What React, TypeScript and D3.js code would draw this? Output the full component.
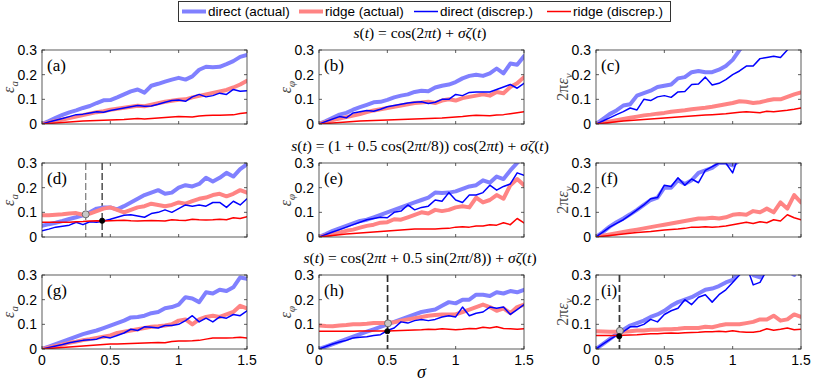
import React, { useEffect, useRef } from 'react';
import * as d3 from 'd3';

// noise level grid
const sigma = [0, 0.05, 0.1, 0.15, 0.2, 0.25, 0.3, 0.35, 0.4, 0.45, 0.5, 0.55, 0.6, 0.65, 0.7, 0.75,
  0.8, 0.85, 0.9, 0.95, 1.0, 1.05, 1.1, 1.15, 1.2, 1.25, 1.3, 1.35, 1.4, 1.45, 1.5];

const seriesNames = ['direct (actual)', 'ridge (actual)', 'direct (discrep.)', 'ridge (discrep.)'];
const panelLabels = ['(a)', '(b)', '(c)', '(d)', '(e)', '(f)', '(g)', '(h)', '(i)'];
const xTicks = [0, 0.5, 1, 1.5];
const yTicks = [0, 0.1, 0.2, 0.3];

// row 1: s(t) = cos(2πt) + σζ(t)
const aDirAct = [0, .012, .025, .037, .047, .055, .065, .073, .085, .096, .097, .108, .12, .132, .14, .127, .155, .163, .172, .18, .187, .18, .193, .22, .232, .23, .232, .243, .255, .272, .28];
const aRidAct = [0, .006, .012, .018, .024, .03, .036, .042, .048, .052, .058, .062, .066, .07, .074, .072, .078, .084, .09, .094, .098, .1, .108, .114, .12, .126, .132, .138, .148, .16, .175];
const aDirDis = [0, .008, .015, .022, .03, .038, .04, .045, .05, .048, .055, .06, .065, .07, .075, .072, .073, .08, .088, .095, .097, .092, .11, .12, .11, .115, .125, .12, .14, .133, .135];
const aRidDis = [0, .002, .004, .006, .008, .01, .012, .013, .014, .015, .016, .017, .018, .02, .022, .02, .022, .024, .026, .028, .03, .029, .028, .032, .034, .035, .035, .036, .037, .043, .046];

const bDirAct = [0, .012, .025, .038, .045, .058, .068, .078, .088, .09, .098, .108, .115, .12, .13, .135, .133, .148, .155, .16, .17, .185, .195, .2, .195, .205, .225, .205, .245, .24, .275];
const bRidAct = [0, .008, .016, .022, .028, .034, .04, .048, .055, .06, .065, .07, .075, .08, .085, .087, .09, .085, .095, .1, .095, .105, .11, .115, .12, .115, .13, .125, .15, .165, .19];
const bDirDis = [0, .01, .02, .03, .025, .045, .05, .055, .052, .06, .07, .075, .08, .085, .088, .09, .083, .088, .1, .1, .12, .115, .128, .13, .13, .13, .14, .15, .16, .145, .165];
const bRidDis = [0, .002, .004, .006, .008, .01, .012, .013, .014, .015, .016, .017, .018, .019, .02, .021, .022, .023, .024, .026, .028, .03, .033, .035, .034, .033, .036, .038, .042, .046, .05];

const cDirAct = [0, .02, .04, .055, .075, .08, .115, .125, .135, .15, .155, .16, .185, .19, .21, .215, .21, .21, .22, .235, .26, .3, .33, .35, .37, .38, .4, .42, .44, .46, .48];
const cRidAct = [0, .005, .01, .015, .02, .025, .03, .035, .038, .042, .045, .05, .053, .056, .06, .063, .066, .07, .075, .08, .085, .092, .09, .085, .088, .095, .1, .1, .11, .12, .128];
const cDirDis = [0, .012, .025, .038, .05, .065, .057, .1, .095, .11, .115, .108, .13, .132, .16, .162, .19, .158, .165, .18, .2, .215, .235, .235, .265, .27, .275, .27, .3, .33, .36];
const cRidDis = [0, .003, .006, .009, .012, .014, .016, .018, .02, .022, .024, .026, .028, .03, .032, .034, .036, .038, .04, .042, .045, .048, .05, .048, .046, .052, .05, .053, .056, .06, .065];

// row 2: s(t) = (1 + 0.5cos(2πt/8))cos(2πt) + σζ(t)
const dDirAct = [.045, .052, .058, .065, .073, .08, .088, .1, .115, .12, .12, .112, .125, .14, .155, .17, .18, .19, .175, .18, .2, .21, .205, .215, .24, .225, .24, .26, .245, .275, .295];
const dRidAct = [.088, .088, .09, .092, .095, .097, .09, .095, .105, .115, .12, .11, .1, .11, .12, .125, .135, .13, .125, .13, .14, .135, .145, .155, .16, .17, .175, .165, .175, .19, .18];
const dDirDis = [.025, .032, .04, .044, .048, .06, .05, .062, .06, .065, .072, .08, .088, .09, .085, .08, .095, .1, .11, .1, .115, .13, .125, .13, .125, .14, .14, .12, .145, .13, .155];
const dRidDis = [.06, .06, .06, .06, .06, .062, .063, .065, .066, .065, .066, .067, .068, .066, .065, .066, .067, .066, .065, .07, .068, .067, .072, .07, .069, .07, .072, .07, .078, .075, .082];

const eDirAct = [0, .012, .025, .035, .045, .055, .065, .07, .08, .09, .1, .11, .12, .13, .14, .15, .16, .18, .178, .18, .185, .195, .205, .21, .23, .22, .245, .235, .27, .3, .33];
const eRidAct = [0, .006, .012, .018, .025, .03, .038, .045, .05, .058, .06, .072, .07, .08, .09, .1, .095, .11, .105, .11, .12, .125, .12, .16, .14, .15, .17, .155, .21, .235, .21];
const eDirDis = [0, .01, .02, .03, .04, .05, .06, .07, .075, .08, .078, .1, .105, .13, .11, .12, .125, .15, .145, .18, .15, .14, .17, .17, .18, .21, .19, .205, .215, .26, .25];
const eRidDis = [0, .003, .006, .009, .012, .014, .016, .018, .02, .022, .024, .026, .028, .03, .032, .032, .032, .032, .034, .035, .04, .042, .04, .045, .045, .05, .048, .058, .05, .075, .057];

const fDirAct = [0, .02, .042, .06, .075, .092, .11, .13, .15, .16, .2, .2, .23, .215, .23, .26, .27, .28, .3, .3, .29, .31, .35, .38, .4, .42, .44, .46, .48, .5, .52];
const fRidAct = [0, .005, .01, .015, .02, .025, .03, .035, .04, .045, .05, .055, .06, .065, .07, .075, .075, .078, .075, .08, .09, .093, .09, .105, .1, .115, .1, .14, .115, .17, .14];
const fDirDis = [0, .02, .04, .055, .07, .09, .11, .13, .155, .16, .21, .205, .24, .21, .235, .22, .27, .285, .3, .3, .26, .34, .38, .4, .42, .44, .46, .48, .5, .52, .54];
const fRidDis = [0, .003, .006, .009, .012, .015, .018, .02, .022, .025, .028, .03, .032, .035, .04, .04, .042, .04, .042, .045, .05, .055, .06, .055, .062, .058, .07, .065, .09, .078, .07];

// row 3: s(t) = cos(2πt + 0.5sin(2πt/8)) + σζ(t)
const gDirAct = [0, .01, .02, .03, .04, .05, .06, .068, .075, .085, .095, .105, .115, .128, .13, .135, .145, .15, .165, .17, .18, .21, .205, .19, .23, .225, .24, .235, .25, .29, .285];
const gRidAct = [0, .006, .012, .018, .025, .03, .036, .04, .045, .05, .055, .065, .07, .075, .08, .085, .09, .092, .095, .1, .115, .12, .1, .12, .13, .135, .13, .14, .15, .175, .165];
const gDirDis = [0, .006, .012, .018, .025, .03, .035, .037, .04, .05, .045, .055, .065, .08, .075, .09, .088, .085, .095, .095, .1, .115, .135, .11, .125, .11, .13, .125, .14, .135, .155];
const gRidDis = [0, .002, .004, .006, .008, .01, .012, .014, .016, .018, .02, .02, .021, .022, .023, .024, .025, .026, .025, .03, .032, .032, .033, .035, .04, .045, .045, .045, .046, .048, .045];

const hDirAct = [0, .01, .02, .03, .04, .05, .06, .07, .08, .09, .1, .11, .12, .13, .14, .15, .155, .16, .175, .19, .185, .2, .2, .22, .22, .215, .23, .225, .235, .23, .24];
const hRidAct = [.095, .093, .092, .095, .097, .1, .1, .102, .105, .105, .105, .108, .115, .12, .125, .13, .135, .138, .14, .14, .14, .15, .16, .17, .18, .17, .155, .165, .145, .17, .18];
const hDirDis = [0, .01, .02, .028, .035, .045, .048, .05, .055, .058, .075, .085, .11, .105, .115, .12, .115, .12, .13, .135, .13, .17, .135, .145, .15, .17, .165, .17, .14, .16, .18];
const hRidDis = [.072, .072, .072, .072, .072, .072, .073, .073, .073, .073, .073, .074, .075, .076, .077, .078, .08, .079, .082, .08, .078, .08, .083, .082, .088, .085, .09, .083, .082, .08, .082];

const iDirAct = [0, .02, .04, .06, .078, .095, .105, .115, .13, .14, .155, .175, .19, .2, .21, .225, .24, .245, .255, .27, .28, .32, .33, .3, .29, .33, .34, .36, .32, .3, .35];
const iRidAct = [.072, .071, .07, .07, .07, .072, .075, .075, .078, .078, .08, .08, .082, .085, .085, .085, .09, .088, .095, .1, .1, .1, .105, .11, .12, .12, .135, .115, .12, .14, .13];
const iDirDis = [0, .02, .038, .055, .07, .09, .09, .1, .12, .11, .14, .155, .165, .2, .18, .21, .22, .19, .22, .24, .27, .3, .34, .26, .27, .32, .36, .38, .35, .33, .36];
const iRidDis = [.055, .055, .055, .055, .056, .057, .058, .06, .062, .062, .064, .065, .064, .066, .067, .068, .07, .07, .072, .07, .074, .07, .068, .068, .072, .082, .076, .08, .085, .078, .08];

const panelSeries = [
  [aDirAct, aRidAct, aDirDis, aRidDis],
  [bDirAct, bRidAct, bDirDis, bRidDis],
  [cDirAct, cRidAct, cDirDis, cRidDis],
  [dDirAct, dRidAct, dDirDis, dRidDis],
  [eDirAct, eRidAct, eDirDis, eRidDis],
  [fDirAct, fRidAct, fDirDis, fRidDis],
  [gDirAct, gRidAct, gDirDis, gRidDis],
  [hDirAct, hRidAct, hDirDis, hRidDis],
  [iDirAct, iRidAct, iDirDis, iRidDis],
];

// crossing markers: panel index, sigma, value, kind
const markerPanel = [3, 3, 7, 7, 8, 8];
const markerSigma = [0.32, 0.44, 0.505, 0.5, 0.175, 0.17];
const markerValue = [0.092, 0.066, 0.104, 0.072, 0.074, 0.052];
const markerKind = ['gray', 'black', 'gray', 'black', 'gray', 'black'];

const colors = ['#8080ff', '#ff8484', '#0000ff', '#ff0000'];
const widths = [4, 4, 1.5, 1.5];

const App = () => {
  const svgRef = useRef<SVGSVGElement>(null);

  useEffect(() => {
    const svg = d3.select(svgRef.current);
    svg.selectAll('*').remove();

    const width = 205;
    const height = 74;
    const colX = [42, 319, 596];
    const rowY = [50, 163, 275];
    const serif = '"Liberation Serif", "Times New Roman", serif';
    const sans = '"Liberation Sans", Arial, sans-serif';

    const x = d3.scaleLinear().domain([0, 1.5]).range([0, width]);
    const y = d3.scaleLinear().domain([0, 0.3]).range([height, 0]);

    // legend
    const legend = svg.append('g');
    legend.append('rect')
      .attr('x', 178.5).attr('y', 1.5).attr('width', 492).attr('height', 20)
      .attr('fill', 'white').attr('stroke', '#333').attr('stroke-width', 1);
    const legX = [182, 299, 414, 547];
    seriesNames.forEach((name, i) => {
      legend.append('line')
        .attr('x1', legX[i]).attr('x2', legX[i] + 24)
        .attr('y1', 11.5).attr('y2', 11.5)
        .attr('stroke', colors[i]).attr('stroke-width', widths[i]);
      legend.append('text')
        .attr('x', legX[i] + 26).attr('y', 16)
        .style('font-family', sans).style('font-size', '13.5px')
        .text(name);
    });

    // math titles: [text, italic]
    const titles: [string, boolean][][] = [
      [['s', true], ['(', false], ['t', true], [') = cos(2', false], ['πt', true], [') + ', false], ['σζ', true], ['(', false], ['t', true], [')', false]],
      [['s', true], ['(', false], ['t', true], [') = (1 + 0.5 cos(2', false], ['πt', true], ['/8)) cos(2', false], ['πt', true], [') + ', false], ['σζ', true], ['(', false], ['t', true], [')', false]],
      [['s', true], ['(', false], ['t', true], [') = cos(2', false], ['πt', true], [' + 0.5 sin(2', false], ['πt', true], ['/8)) + ', false], ['σζ', true], ['(', false], ['t', true], [')', false]],
    ];
    const titleY = [38, 151, 263];
    titles.forEach((segs, r) => {
      const t = svg.append('text')
        .attr('x', 420).attr('y', titleY[r])
        .attr('text-anchor', 'middle')
        .style('font-family', serif).style('font-size', '15.5px');
      segs.forEach(([s, it]) => {
        t.append('tspan').style('font-style', it ? 'italic' : 'normal').text(s);
      });
    });

    const yLabels: [string, string, string][] = [
      ['', 'ε', 'a'], ['', 'ε', 'φ'], ['2π', 'ε', 'ν'],
    ];

    panelSeries.forEach((series, p) => {
      const r = Math.floor(p / 3);
      const c = p % 3;
      const g = svg.append('g').attr('transform', `translate(${colX[c]},${rowY[r]})`);

      const clipId = `clip-${p}`;
      g.append('clipPath').attr('id', clipId)
        .append('rect').attr('width', width).attr('height', height);

      const line = d3.line<number>()
        .x((d, i) => x(sigma[i]))
        .y(d => y(d));

      const plot = g.append('g').attr('clip-path', `url(#${clipId})`);

      // dashed verticals
      markerPanel.forEach((mp, k) => {
        if (mp !== p) return;
        plot.append('line')
          .attr('x1', x(markerSigma[k])).attr('x2', x(markerSigma[k]))
          .attr('y1', 0).attr('y2', height)
          .attr('stroke', markerKind[k] === 'gray' ? '#777' : '#222')
          .attr('stroke-width', 1.2)
          .attr('stroke-dasharray', '7,3');
      });

      series.forEach((vals, s) => {
        plot.append('path')
          .datum(vals)
          .attr('d', line)
          .attr('fill', 'none')
          .attr('stroke', colors[s])
          .attr('stroke-width', widths[s])
          .attr('stroke-linejoin', 'round')
          .attr('stroke-linecap', 'round');
      });

      markerPanel.forEach((mp, k) => {
        if (mp !== p) return;
        const gray = markerKind[k] === 'gray';
        g.append('circle')
          .attr('cx', x(markerSigma[k])).attr('cy', y(markerValue[k]))
          .attr('r', gray ? 3.5 : 2.6)
          .attr('fill', gray ? '#c8c8c8' : '#000')
          .attr('stroke', gray ? '#555' : '#000')
          .attr('stroke-width', 0.8);
      });

      // box + inward ticks
      g.append('rect')
        .attr('width', width).attr('height', height)
        .attr('fill', 'none').attr('stroke', '#333').attr('stroke-width', 0.8);
      xTicks.forEach(t => {
        g.append('line').attr('x1', x(t)).attr('x2', x(t)).attr('y1', height).attr('y2', height - 3)
          .attr('stroke', '#333').attr('stroke-width', 0.8);
        g.append('line').attr('x1', x(t)).attr('x2', x(t)).attr('y1', 0).attr('y2', 3)
          .attr('stroke', '#333').attr('stroke-width', 0.8);
      });
      yTicks.forEach(t => {
        g.append('line').attr('x1', 0).attr('x2', 3).attr('y1', y(t)).attr('y2', y(t))
          .attr('stroke', '#333').attr('stroke-width', 0.8);
        g.append('line').attr('x1', width).attr('x2', width - 3).attr('y1', y(t)).attr('y2', y(t))
          .attr('stroke', '#333').attr('stroke-width', 0.8);
        g.append('text')
          .attr('x', -5).attr('y', y(t) + 5)
          .attr('text-anchor', 'end')
          .style('font-family', sans).style('font-size', '14px')
          .text(t === 0 ? '0' : d3.format('.1f')(t));
      });

      if (r === 2) {
        xTicks.forEach(t => {
          g.append('text')
            .attr('x', x(t)).attr('y', height + 16)
            .attr('text-anchor', 'middle')
            .style('font-family', sans).style('font-size', '14px')
            .text(t === 0 ? '0' : String(t));
        });
      }

      g.append('text')
        .attr('x', 5).attr('y', 21)
        .style('font-family', serif).style('font-size', '17px')
        .text(panelLabels[p]);

      const [pre, base, sub] = yLabels[c];
      const yl = g.append('text')
        .attr('transform', `translate(${-28},${height / 2}) rotate(-90)`)
        .attr('text-anchor', 'middle')
        .style('font-family', serif).style('font-size', '16px')
        .attr('fill', '#444');
      if (pre) yl.append('tspan').text(pre);
      yl.append('tspan').style('font-style', 'italic').text(base);
      yl.append('tspan').style('font-style', 'italic').style('font-size', '11px')
        .attr('dy', 4).text(sub);
    });

    svg.append('text')
      .attr('x', colX[1] + width / 2).attr('y', 378)
      .attr('text-anchor', 'middle')
      .style('font-family', serif).style('font-style', 'italic').style('font-size', '18px')
      .text('σ');
  }, []);

  return (
    <svg ref={svgRef} width={830} height={382}
      style={{ position: 'absolute', left: 0, top: 0, background: 'white' }} />
  );
};

export default App;
